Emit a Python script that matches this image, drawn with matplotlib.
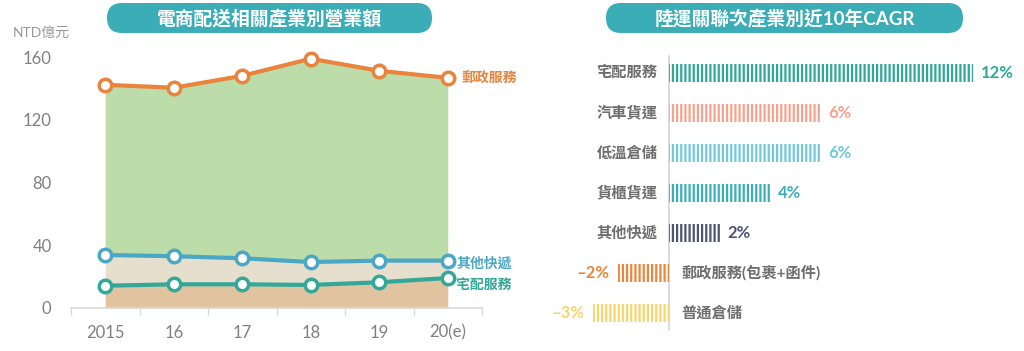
import matplotlib
matplotlib.use("Agg")
import matplotlib.pyplot as plt
from matplotlib.patches import FancyBboxPatch
import numpy as np

plt.rcParams["font.family"] = ["Lato", "Noto Sans CJK TC", "DejaVu Sans"]
plt.rcParams["hatch.linewidth"] = 1.6

# left chart data (NTD 億元)
years = ["2015", "16", "17", "18", "19", "20(e)"]
postal = [142.3, 140.4, 148.0, 158.9, 151.2, 146.7]
other_express = [33.8, 33.0, 31.7, 29.3, 30.2, 30.2]
home_delivery = [14.2, 15.1, 15.1, 14.7, 16.4, 19.1]

# right chart data (CAGR %)
cagr_names = ["宅配服務", "汽車貨運", "低溫倉儲", "貨櫃貨運", "其他快遞",
              "郵政服務(包裹+函件)", "普通倉儲"]
cagr_values = [12, 6, 6, 4, 2, -2, -3]
cagr_colors = ["#2fa898", "#f5a38e", "#72c9de", "#3aafb9", "#4b5377",
               "#e8873e", "#f9d570"]

TEAL = "#3aadb6"
GRAY = "#808080"

fig = plt.figure(figsize=(10.24, 3.51), dpi=100)
W, H = 1024, 351


def px_axes(x0, y0, x1, y1):
    return fig.add_axes([x0 / W, 1 - y1 / H, (x1 - x0) / W, (y1 - y0) / H])


# ---- left: area + line chart
ax = px_axes(71, 57, 482, 308)
x = np.arange(len(years))
ax.fill_between(x, 0, home_delivery, color="#e2c39f", lw=0)
ax.fill_between(x, home_delivery, other_express, color="#e6dfcd", lw=0)
ax.fill_between(x, other_express, postal, color="#bcdcaa", lw=0)

# (values, colour, label, label x offset, label y offset) - offsets in points
series = [
    (postal, "#e8843c", "郵政服務", 10, 0),
    (other_express, "#4aa8c6", "其他快遞", 6, -2),
    (home_delivery, "#33a898", "宅配服務", 6, -5),
]
for vals, col, name, dx, dy in series:
    ax.plot(x, vals, color=col, lw=3, marker="o", ms=9, mfc="white",
            mec=col, mew=2.5, clip_on=False, zorder=3)
    ax.annotate(name, (x[-1], vals[-1]), xytext=(dx, dy), textcoords="offset points",
                color=col, fontsize=10, fontweight="bold", va="center", ha="left",
                annotation_clip=False)

ax.set_xlim(-0.5, 5.5)
ax.set_ylim(0, 160)
ax.set_yticks([0, 40, 80, 120, 160])
ax.set_xticks(x)
ax.set_xticklabels(years)
ax.set_xticks(np.arange(-0.5, 6, 1), minor=True)
ax.tick_params(axis="x", which="major", length=0, pad=12, labelsize=12,
               labelcolor=GRAY)
ax.tick_params(axis="x", which="minor", length=5, color="#d9d9d9", width=1)
ax.tick_params(axis="y", length=0, pad=14, labelsize=12, labelcolor=GRAY)
for s in ["top", "right", "left"]:
    ax.spines[s].set_visible(False)
ax.spines["bottom"].set_color("#d9d9d9")
ax.spines["bottom"].set_linewidth(1.2)
ax.patch.set_alpha(0)
fig.text(13 / W, 1 - 32 / H, "NTD億元", fontsize=10, color="#999999",
         va="center", ha="left")

# ---- right: striped horizontal bars
bx = px_axes(555, 53, 1011, 333)
rows = np.arange(len(cagr_names))
bx.barh(rows, cagr_values, height=0.43, color="white", edgecolor=cagr_colors,
        hatch="||||", lw=0, zorder=2)
bx.axvline(0, color="#d5d5d5", lw=1.2, ymin=0.01, ymax=0.99, zorder=1)
for r, name, v, c in zip(rows, cagr_names, cagr_values, cagr_colors):
    if v >= 0:
        bx.text(-0.45, r, name, ha="right", va="center", fontsize=11,
                color="#6e6e6e", fontweight="bold")
        bx.text(v + 0.3, r, f"{v}%", ha="left", va="center", fontsize=12,
                color=c, fontweight="bold")
    else:
        bx.text(0.5, r, name, ha="left", va="center", fontsize=11,
                color="#6e6e6e", fontweight="bold")
        bx.text(v - 0.35, r, f"\u2013{abs(v)}%", ha="right", va="center",
                fontsize=12, color=c, fontweight="bold")
bx.set_xlim(-4.5, 13.5)
bx.set_ylim(6.5, -0.5)
bx.axis("off")

# ---- title pills
ov = fig.add_axes([0, 0, 1, 1], zorder=5)
ov.set_xlim(0, W)
ov.set_ylim(H, 0)
ov.axis("off")
ov.patch.set_alpha(0)
for x0, x1, title in [(107, 432, "電商配送相關產業別營業額"),
                      (606, 963, "陸運關聯次產業別近10年CAGR")]:
    ov.add_patch(FancyBboxPatch((x0, 3), x1 - x0, 30,
                                boxstyle="round,pad=0,rounding_size=15",
                                fc=TEAL, ec="none"))
    ov.text((x0 + x1) / 2, 18.5, title, ha="center", va="center",
            color="white", fontsize=13.5, fontweight="bold")

fig.savefig("out.png", dpi=100)
